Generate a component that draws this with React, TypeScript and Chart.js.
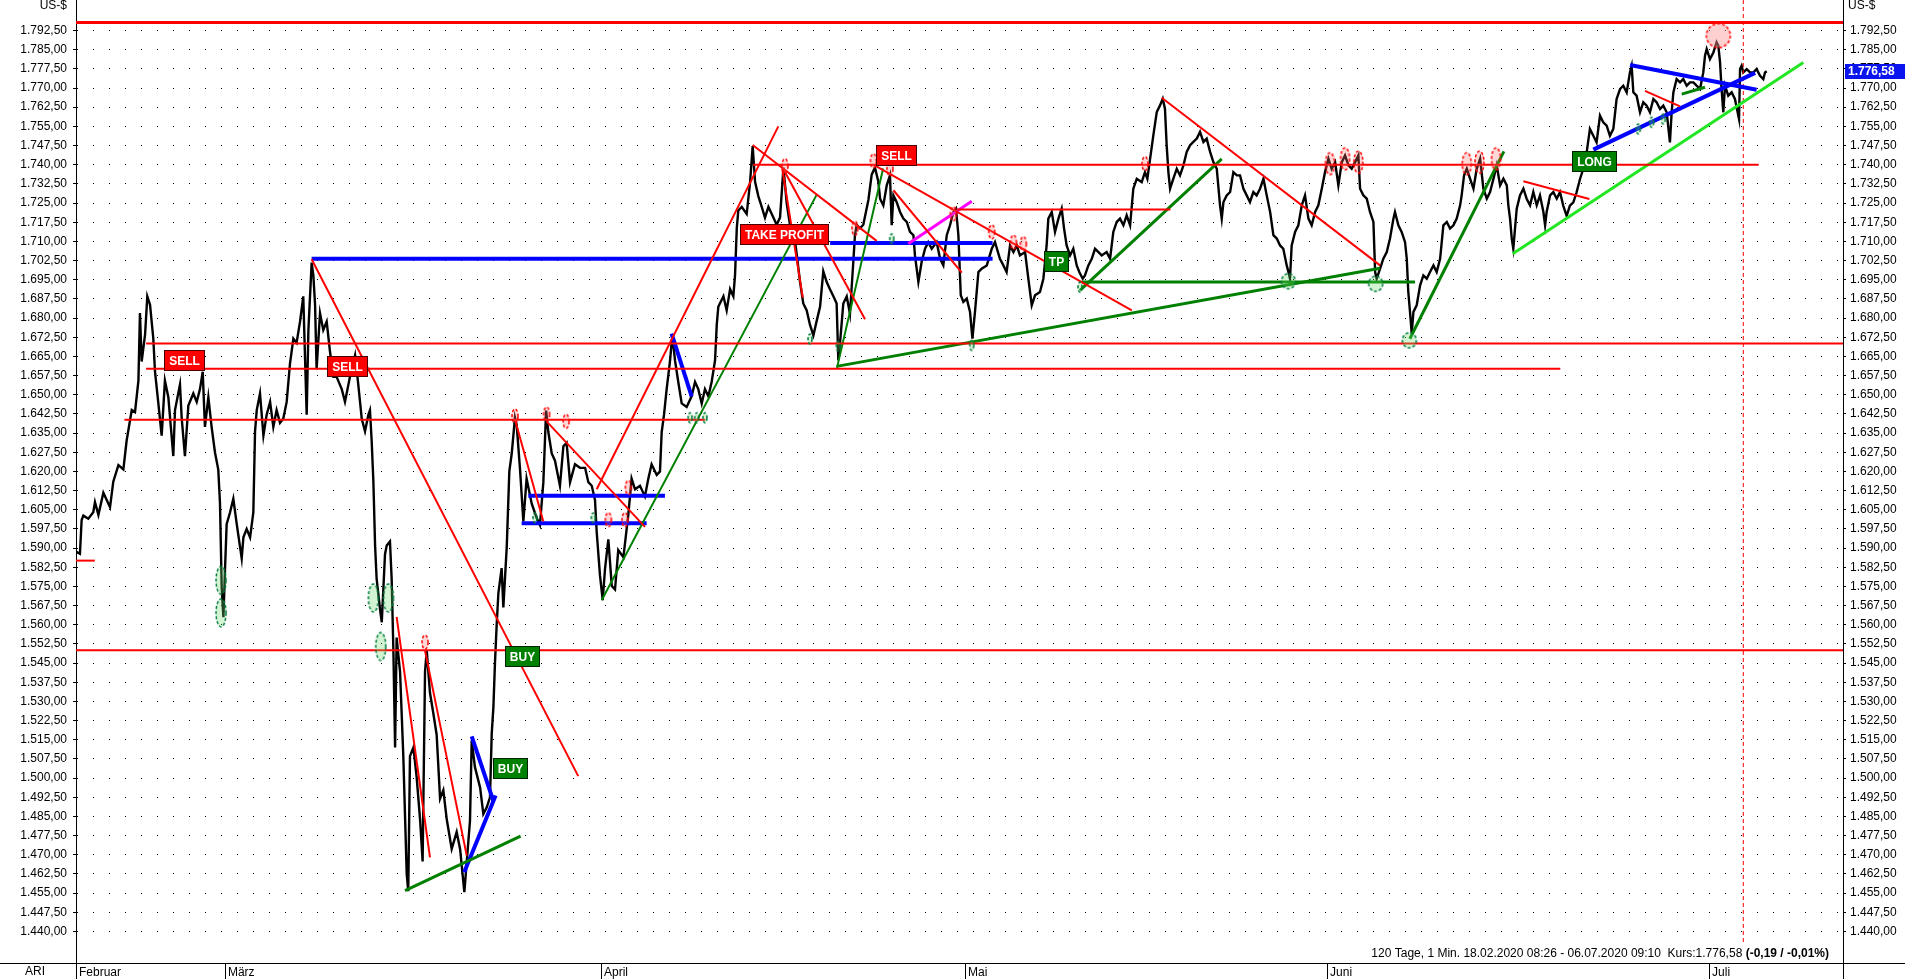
import React, { useEffect, useRef } from "react";
import { Chart, registerables } from "chart.js";

Chart.register(...registerables);

const FONT = "'Liberation Sans', Arial, sans-serif";

// ---- axes -------------------------------------------------------------
// x: trading days since 18.02.2020 08:26
const monthLabels = ["Februar", "März", "April", "Mai", "Juni", "Juli"];
const monthStartDays = [0, 8.71, 30.7, 51.99, 73.16, 95.5];
const xMin = 0;
const xMax = 103.33;
const yMin = 1427.68;
const yMax = 1804.43;
const yTickFirst = 1440;
const yTickLast = 1792.5;
const yTickStep = 7.5;
const lastPrice = 1776.58;
const unitLabel = "US-$";
const symbolLabel = "ARI";
const infoText = "120 Tage, 1 Min. 18.02.2020 08:26 - 06.07.2020 09:10  Kurs:1.776,58 ";
const infoChange = "(-0,19 / -0,01%)";

// ---- price [day, US-$] ---------------------------------------------------
const priceFebMar: [number, number][] = [
  [0, 1588.6], [0.23, 1587.8], [0.33, 1601], [0.43, 1602.7], [0.72, 1601.5], [1.01, 1604], [1.11, 1608], [1.31, 1603],
  [1.6, 1611.7], [1.99, 1606], [2.18, 1616], [2.48, 1622.5], [2.77, 1620.8], [2.96, 1632], [3.26, 1644], [3.45, 1643.2],
  [3.65, 1655.5], [3.74, 1682], [3.84, 1663], [4.04, 1673.6], [4.17, 1688.5], [4.33, 1685.2], [4.52, 1672], [4.62, 1659],
  [4.81, 1647], [5.01, 1634], [5.2, 1655.5], [5.4, 1649], [5.69, 1626], [5.79, 1644], [6.08, 1654], [6.18, 1641],
  [6.37, 1626], [6.57, 1645.8], [6.86, 1650.5], [7.06, 1647.2], [7.25, 1652.2], [7.41, 1659], [7.54, 1637.4], [7.74, 1649],
  [7.93, 1637.4], [8.13, 1627.3], [8.32, 1620.7], [8.42, 1607.6], [8.52, 1574.6], [8.62, 1563], [8.71, 1581], [8.81, 1599.4],
  [9.01, 1604], [9.2, 1609.3], [9.4, 1599.4], [9.69, 1586], [9.79, 1594.2], [9.98, 1597.5], [10.18, 1594.2], [10.37, 1604],
  [10.47, 1635.7], [10.57, 1644], [10.76, 1650.5], [10.96, 1634], [11.15, 1642.2], [11.35, 1647.2], [11.54, 1637.4], [11.73, 1644],
  [11.93, 1639], [12.12, 1640.6], [12.32, 1647.2], [12.51, 1662], [12.71, 1672], [12.9, 1670.3], [13.1, 1678.6], [13.29, 1688.5],
  [13.49, 1642.2], [13.59, 1675.3], [13.78, 1701.7], [13.88, 1696.7], [13.98, 1685.2], [14.07, 1660], [14.27, 1681.9], [14.46, 1675.3],
  [14.66, 1678.6], [14.85, 1667], [15.05, 1657], [15.24, 1657], [15.54, 1652.2], [15.73, 1647.2], [16.02, 1657], [16.32, 1665.4],
  [16.51, 1653.8], [16.71, 1640.6], [16.9, 1635.7], [17.1, 1642.2], [17.19, 1643.9], [17.29, 1632], [17.39, 1616], [17.49, 1591],
  [17.58, 1578], [17.78, 1566], [17.88, 1561], [18.07, 1587.6], [18.17, 1591], [18.36, 1592.6], [18.46, 1577.8], [18.56, 1550],
  [18.66, 1512], [18.75, 1555], [18.95, 1541.6], [19.14, 1508.6], [19.34, 1462.4], [19.43, 1455.8], [19.53, 1508.6], [19.73, 1512],
  [19.92, 1500.4], [20.12, 1483.9], [20.27, 1467.4], [20.41, 1541.6], [20.51, 1550], [20.7, 1533.4], [20.9, 1525.2], [21.09, 1517],
  [21.29, 1492], [21.48, 1495.3], [21.68, 1483.9], [21.97, 1472.3], [22.26, 1478.9], [22.46, 1472.3], [22.71, 1455.4],
  [23.04, 1483.4], [23.14, 1514.7], [23.33, 1504.3], [23.63, 1496.4], [23.82, 1486], [24.02, 1488.6], [24.21, 1492.5], [24.31, 1517.3],
  [24.41, 1528], [24.5, 1545], [24.6, 1560],
];
const priceApr: [number, number][] = [
  [24.7, 1572.4], [24.89, 1582.2], [24.99, 1566.8], [25.19, 1590.6], [25.34, 1620], [25.48, 1627], [25.67, 1641], [25.77, 1638.2],
  [25.96, 1621.4], [26.16, 1600.4], [26.35, 1617.2], [26.65, 1607.4], [26.94, 1601.8], [27.13, 1599], [27.33, 1615.8], [27.49, 1643.8],
  [27.62, 1635.4], [27.82, 1627], [28.01, 1624.2], [28.3, 1614.4], [28.5, 1629.8], [28.69, 1631.2], [28.89, 1615.8], [29.18, 1622.8],
  [29.47, 1621.4], [29.77, 1621.4], [29.96, 1615.8], [30.16, 1614.4], [30.35, 1608.8], [30.45, 1596.2], [30.64, 1579.4], [30.8, 1569.6],
  [30.94, 1582.2], [31.13, 1593.4], [31.33, 1575.2], [31.52, 1573.8], [31.71, 1589.2], [32.01, 1586.4], [32.3, 1603.2], [32.49, 1617.2],
  [32.69, 1613], [32.98, 1614.4], [33.27, 1610.2], [33.47, 1617.2], [33.66, 1622.8], [33.96, 1618.6], [34.15, 1620], [34.25, 1635.4],
  [34.39, 1642.4], [34.54, 1652.2], [34.74, 1663.4], [34.87, 1673.2], [35.03, 1663.4], [35.22, 1655], [35.42, 1646.6], [35.71, 1645.2],
  [36, 1649.4], [36.2, 1655], [36.39, 1652.2], [36.59, 1646.6], [36.78, 1652.2], [36.98, 1649.4], [37.17, 1655], [37.37, 1663.4],
  [37.47, 1677.4], [37.56, 1684.4], [37.86, 1688.5], [38.05, 1683], [38.25, 1691.3], [38.44, 1688.5], [38.54, 1696.9], [38.64, 1715.1],
  [38.73, 1722.1], [38.93, 1723.5], [39.22, 1720.7], [39.42, 1733.3], [39.57, 1747.3], [39.71, 1733.3], [39.9, 1727.7], [40.1, 1723.5],
  [40.29, 1719.3], [40.49, 1723.5], [40.78, 1719.3], [40.97, 1716.5], [41.17, 1719.3], [41.37, 1738.9], [41.56, 1724.9], [41.75, 1716.5],
  [41.95, 1715.1], [42.14, 1705.3], [42.34, 1694.1], [42.53, 1685.7], [42.73, 1683], [42.92, 1677.4], [43.12, 1673.2], [43.31, 1678.8],
  [43.51, 1684.4], [43.7, 1698.3], [43.9, 1694.1], [44.09, 1691.3], [44.29, 1688.5], [44.48, 1685.7], [44.58, 1663.4], [44.68, 1670.4],
  [44.87, 1685.7], [45.07, 1688.5], [45.26, 1681.6], [45.46, 1702.5], [45.55, 1712.3], [45.65, 1716.5], [45.85, 1715.1], [46.04, 1716.5],
  [46.34, 1726.3], [46.53, 1736.1], [46.72, 1738.9], [46.92, 1733.3],
];
const priceMay: [number, number][] = [
  [47.02, 1726.7], [47.21, 1724.1], [47.41, 1731.9], [47.6, 1735.8], [47.7, 1716.3], [47.8, 1728], [47.99, 1725.4], [48.19, 1721.5],
  [48.38, 1718.9], [48.58, 1717.6], [48.77, 1713.7], [48.97, 1712.4], [49.06, 1704.5], [49.26, 1694.1], [49.45, 1701.9], [49.65, 1707.1],
  [49.84, 1709.7], [50.04, 1707.1], [50.33, 1709.7], [50.53, 1703.2], [50.72, 1700.6], [50.92, 1712.4], [51.11, 1716.3], [51.31, 1721.5],
  [51.46, 1722.8], [51.6, 1712.4], [51.74, 1688.9], [51.89, 1686.3], [52.09, 1687.6], [52.28, 1682.4], [52.42, 1671.9], [52.57, 1682.4],
  [52.77, 1698], [52.96, 1699.3], [53.26, 1700.6], [53.55, 1707.1], [53.74, 1709.7], [54.03, 1703.2], [54.23, 1700.6], [54.42, 1698],
  [54.62, 1708.4], [54.82, 1705.8], [55.01, 1708.4], [55.2, 1704.5], [55.5, 1705.8], [55.69, 1695.4], [55.89, 1685], [56.08, 1688.9],
  [56.37, 1690.2], [56.57, 1695.4], [56.76, 1708.4], [56.86, 1718.9], [57.06, 1721.5], [57.25, 1713.7], [57.45, 1718.9], [57.64, 1722.8],
  [57.78, 1715], [57.93, 1708.4], [58.13, 1704.5], [58.32, 1707.1], [58.52, 1700.6], [58.67, 1698], [58.87, 1695.4], [59, 1696.7],
  [59.2, 1700.6], [59.4, 1703.2], [59.59, 1707.1], [59.79, 1705.8], [59.98, 1704.5], [60.27, 1705.8], [60.47, 1703.2], [60.66, 1713.7],
  [60.86, 1717.6], [61.05, 1718.9], [61.25, 1716.3], [61.44, 1720.2], [61.64, 1716.3], [61.83, 1730.6], [62.03, 1734.5], [62.32, 1733.2],
  [62.51, 1737.1], [62.65, 1734.5], [62.81, 1742.3], [63, 1751.5], [63.2, 1760.6], [63.39, 1763.2], [63.55, 1765.8], [63.68, 1761.9],
  [63.78, 1747.6], [63.88, 1737.1], [63.98, 1730.6], [64.17, 1734.5], [64.37, 1738.4], [64.56, 1735.8], [64.76, 1739.7], [64.95, 1745],
  [65.15, 1747.6], [65.34, 1748.9], [65.54, 1750.2], [65.73, 1752.8], [65.93, 1748.9], [66.12, 1750.2], [66.32, 1745], [66.51, 1741],
  [66.71, 1738.4], [66.9, 1724.1], [67, 1718.9], [67.1, 1725.4], [67.29, 1728], [67.49, 1729.3], [67.68, 1737.1], [67.88, 1735.8],
  [68.07, 1735.8], [68.27, 1730.6], [68.46, 1728], [68.65, 1725.4], [68.85, 1729.3], [69.04, 1728], [69.24, 1730.6], [69.44, 1734.5],
  [69.63, 1728], [69.83, 1721.5], [70.02, 1712.4], [70.22, 1711.1], [70.41, 1708.4],
];
const priceJun: [number, number][] = [
  [70.6, 1707.1], [70.8, 1700.6], [70.9, 1698], [70.99, 1695.4], [71.09, 1708.4], [71.29, 1713.7], [71.48, 1716.3], [71.68, 1724.1],
  [71.87, 1728], [72.07, 1718.9], [72.26, 1716.3], [72.46, 1721.5], [72.65, 1724.1], [72.85, 1730.6], [73.04, 1737.1], [73.24, 1742.3],
  [73.43, 1738.4], [73.63, 1741], [73.82, 1731.9], [74.02, 1741], [74.21, 1743.6], [74.41, 1739.7], [74.6, 1738.4], [74.8, 1741],
  [74.99, 1743.6], [75.09, 1730.6], [75.28, 1728], [75.48, 1726.7], [75.67, 1721.5], [75.87, 1717.6], [75.97, 1698], [76.06, 1695.4],
  [76.26, 1699.3], [76.45, 1703.2], [76.65, 1705.8], [76.84, 1711.1], [77.04, 1718.9], [77.13, 1721.5], [77.33, 1716.3], [77.52, 1713.7],
  [77.72, 1709.7], [77.82, 1703.2], [77.91, 1690.2], [78.01, 1682.4], [78.11, 1674], [78.21, 1682.4], [78.4, 1685], [78.6, 1692.8],
  [78.79, 1696.7], [78.99, 1695.4], [79.18, 1698], [79.38, 1700.6], [79.57, 1698], [79.77, 1703.2], [79.96, 1716.3], [80.16, 1717.6],
  [80.35, 1715], [80.55, 1716.3], [80.74, 1718.9], [80.94, 1724.1], [81.03, 1728], [81.17, 1735.8], [81.33, 1738.4], [81.52, 1734.5],
  [81.72, 1730.6], [81.91, 1738.4], [82.11, 1742.3], [82.3, 1730.6], [82.5, 1726.7], [82.69, 1729.3], [82.89, 1734.5], [83.08, 1739.7],
  [83.28, 1731.9], [83.47, 1734.5], [83.67, 1731.9], [83.76, 1724.1], [83.86, 1718.9], [83.96, 1711.1], [84.05, 1707.1], [84.15, 1715],
  [84.25, 1722.8], [84.44, 1728], [84.64, 1730.6], [84.83, 1726.7], [85.03, 1724.1], [85.22, 1729.3], [85.42, 1724.1], [85.61, 1728],
  [85.81, 1721.5], [85.91, 1716.3], [86, 1721.5], [86.2, 1728], [86.39, 1729.3], [86.59, 1726.7], [86.78, 1729.3],
];
const priceJul: [number, number][] = [
  [86.97, 1724], [87.17, 1720], [87.36, 1724], [87.56, 1725.3], [87.75, 1729.2], [87.95, 1734.4], [88.14, 1738.3], [88.34, 1744.8],
  [88.53, 1754], [88.73, 1751.3], [88.92, 1748.7], [89.12, 1759.2], [89.31, 1756.6], [89.51, 1755.3], [89.7, 1751.3], [89.9, 1754],
  [90.09, 1765.7], [90.29, 1769.6], [90.48, 1770.9], [90.68, 1768.3], [90.87, 1776.1], [90.97, 1778.7], [91.07, 1768.3], [91.26, 1767],
  [91.46, 1760.5], [91.65, 1764.4], [91.85, 1763.1], [92.04, 1760.5], [92.24, 1765.7], [92.43, 1764.4], [92.63, 1761.8], [92.82, 1763.1],
  [93.02, 1760.5], [93.21, 1748.7], [93.31, 1760.5], [93.41, 1768.3], [93.6, 1773.5], [93.8, 1772.2], [93.99, 1773.5], [94.19, 1770.9],
  [94.38, 1772.2], [94.58, 1772.2], [94.77, 1770.9], [94.97, 1769.6], [95.16, 1776.1], [95.26, 1782.6], [95.36, 1785.2], [95.55, 1781.3],
  [95.75, 1783.9], [95.94, 1787.9], [96.04, 1786.6], [96.14, 1780], [96.23, 1769.6], [96.33, 1760.5], [96.43, 1770.9], [96.62, 1767],
  [96.82, 1768.3], [97.01, 1765.7], [97.25, 1757.9], [97.31, 1777.4], [97.4, 1778.7], [97.5, 1776.1], [97.7, 1777.4], [97.89, 1776.1],
  [98.09, 1776.1], [98.28, 1777.4], [98.48, 1774.8], [98.67, 1773.5], [98.77, 1776.1], [98.87, 1776.58],
];

// ---- drawing tools ---------------------------------------------------------
// horizontal levels: [fromDay, toDay, value]
const redTopLevel: [number, number, number][] = [[0, 103.33, 1795.6]];
const redLevels: [number, number, number][] = [
  [0, 1.1, 1585.1], [2.83, 36.8, 1640.2], [4.1, 86.8, 1660.2], [4.1, 103.33, 1670],
  [0, 103.33, 1550], [39.6, 98.4, 1740], [51.5, 64.0, 1722.5],
];
const blueLevels: [number, number, number][] = [
  [13.78, 53.6, 1703.2], [44.1, 53.6, 1709.4], [26.45, 34.44, 1610.5], [26.06, 33.37, 1599.7],
];
const greenLevels: [number, number, number][] = [[58.81, 78.3, 1694.1]];
// trend lines: [day1, value1, day2, value2]
const redTrends: [number, number, number, number][] = [
  [13.78, 1703, 29.37, 1500.8], [30.45, 1613, 41.07, 1755], [27.52, 1639.6, 33.27, 1598.3],
  [25.67, 1640.3, 27.33, 1600.4], [39.57, 1747.7, 46.82, 1710.2], [41.3, 1738.5, 42.5, 1688],
  [41.4, 1737.8, 46.14, 1679.5], [46.63, 1740, 61.74, 1683], [47.8, 1730, 51.8, 1697.8],
  [63.49, 1766.2, 76.26, 1700.6], [84.64, 1733.5, 88.5, 1726.6], [91.75, 1768.9, 93.8, 1762.8],
  [18.75, 1563.1, 20.7, 1469], [20.41, 1549.9, 22.85, 1469.7],
];
const blueTrends: [number, number, number, number][] = [
  [34.83, 1673.9, 36.0, 1649.4], [23.14, 1516.3, 24.4, 1491.2], [22.7, 1463.2, 24.54, 1493.2],
  [90.88, 1779, 98.28, 1769.3], [88.73, 1745.9, 98.19, 1775.9],
];
const greenTrendsThick: [number, number, number, number][] = [
  [19.24, 1456, 26.0, 1477.3], [44.48, 1661.1, 76.26, 1699.5], [58.71, 1690.8, 67.0, 1742.3],
  [78.0, 1671.9, 83.5, 1745.2], [93.9, 1767.6, 95.26, 1770.3],
];
const greenTrendsThin: [number, number, number, number][] = [
  [30.74, 1569.6, 43.3, 1728.1], [44.5, 1660.5, 47.2, 1738.5],
];
const limeTrends: [number, number, number, number][] = [[84.02, 1705.2, 101.01, 1780]];
const magentaTrends: [number, number, number, number][] = [[48.67, 1709.1, 52.38, 1725.7]];
const todayMarkerDay = 97.5;
const todayMarkerRange: [number, number] = [1435.9, 1804.43];

// markers (swing highs / lows): [day, value]
const redMarksSmall: [number, number][] = [
  [20.41, 1553.2], [25.67, 1641.7], [27.52, 1642.4], [28.66, 1639.6], [31.13, 1601.1], [32.1, 1601.1],
  [32.3, 1613.7], [41.46, 1739.6], [45.55, 1715.1], [46.63, 1741.5], [47.6, 1738.4], [51.31, 1720.8],
  [53.55, 1713.7], [54.82, 1709.7], [55.4, 1709.1], [62.51, 1740.4],
];
const redMarksLarge: [number, number][] = [
  [73.33, 1740.4], [74.21, 1742.3], [74.99, 1741], [81.33, 1740.4], [82.07, 1741], [83.04, 1742.3],
];
const redMarksRound: [number, number][] = [[96.04, 1790.5]];
const greenMarksTall: [number, number][] = [
  [8.48, 1577.4], [8.48, 1564.7], [17.39, 1570.5], [18.27, 1570.5], [17.82, 1551.5],
];
const greenMarksRound: [number, number][] = [[70.9, 1694.4], [76.0, 1693.4], [77.97, 1671.3]];
const greenMarksSmall: [number, number][] = [
  [26.84, 1601.8], [30.25, 1601.8], [35.91, 1641], [36.3, 1641], [36.78, 1641], [42.92, 1671.8],
  [44.58, 1669], [47.7, 1711], [52.38, 1669.3], [58.71, 1692.1], [91.36, 1754], [92.14, 1756.6], [92.82, 1757.9],
];

// signal labels: [day, value, text]
const sellSignals: [number, number, string][] = [
  [6.37, 1663.3, "SELL"], [15.9, 1661.2, "SELL"], [48.0, 1743.4, "SELL"], [41.42, 1712.6, "TAKE PROFIT"],
];
const buySignals: [number, number, string][] = [
  [26.13, 1547.4, "BUY"], [25.38, 1503.9, "BUY"], [57.33, 1702, "TP"], [88.8, 1741.2, "LONG"],
];

// ---- helpers -----------------------------------------------------------------
const fmtDE = (v: number) => {
  const [i, d] = v.toFixed(2).split(".");
  return i.replace(/\B(?=(\d{3})+(?!\d))/g, ".") + "," + d;
};

const yTicks: number[] = [];
for (let v = yTickFirst; v <= yTickLast + 1e-6; v += yTickStep) yTicks.push(Math.round(v * 100) / 100);

function ellipseCanvas(rx: number, ry: number, stroke: string, fill: string) {
  const c = document.createElement("canvas");
  c.width = Math.ceil(rx * 2 + 4);
  c.height = Math.ceil(ry * 2 + 4);
  const g = c.getContext("2d")!;
  g.beginPath();
  g.ellipse(c.width / 2, c.height / 2, rx, ry, 0, 0, Math.PI * 2);
  g.fillStyle = fill;
  g.fill();
  g.setLineDash([3, 2]);
  g.lineWidth = 1.5;
  g.strokeStyle = stroke;
  g.stroke();
  return c;
}

const lineDs = (pts: [number, number][], color: string, width: number, order: number, dash: number[] = []) => ({
  type: "line" as const,
  data: pts.map(([x, y]) => ({ x, y })),
  borderColor: color,
  borderWidth: width,
  borderDash: dash,
  pointRadius: 0,
  pointHoverRadius: 0,
  fill: false,
  tension: 0,
  order,
});

const noPadV = (s: any, w: number) => {
  s.width = w;
  s.paddingTop = 0;
  s.paddingBottom = 0;
};

export default function App() {
  const ref = useRef<HTMLCanvasElement>(null);

  useEffect(() => {
    const canvas = ref.current;
    if (!canvas) return;

    const datasets: any[] = [];
    const price = [...priceFebMar, ...priceApr, ...priceMay, ...priceJun, ...priceJul];
    datasets.push(lineDs(price, "#000000", 2.4, 10));

    const addLevels = (arr: [number, number, number][], color: string, w: number) =>
      arr.forEach(([a, b, v]) => datasets.push(lineDs([[a, v], [b, v]], color, w, 2)));
    const addTrends = (arr: [number, number, number, number][], color: string, w: number) =>
      arr.forEach(([a, v1, b, v2]) => datasets.push(lineDs([[a, v1], [b, v2]], color, w, 2)));

    addLevels(redTopLevel, "#ff0000", 3);
    addLevels(redLevels, "#ff0000", 2);
    addTrends(redTrends, "#ff0000", 2);
    addLevels(greenLevels, "#008000", 3);
    addTrends(greenTrendsThick, "#008000", 3);
    addTrends(greenTrendsThin, "#008000", 2);
    addTrends(limeTrends, "#22e622", 3);
    addTrends(magentaTrends, "#ff00ff", 3);
    addLevels(blueLevels, "#0000ff", 4);
    addTrends(blueTrends, "#0000ff", 4);
    datasets.push(
      lineDs([[todayMarkerDay, todayMarkerRange[0]], [todayMarkerDay, todayMarkerRange[1]]], "#ff0000", 1, 2, [4, 3])
    );

    const markerDs = (pts: [number, number][], img: HTMLCanvasElement) => ({
      type: "scatter" as const,
      data: pts.map(([x, y]) => ({ x, y })),
      pointStyle: img,
      pointRadius: 5,
      pointHoverRadius: 5,
      showLine: false,
      order: 1,
    });
    const redStroke = "#ff0000";
    const redFill = "rgba(255,110,110,0.28)";
    const greenStroke = "#007a3d";
    const greenFill = "rgba(110,220,110,0.3)";
    datasets.push(markerDs(redMarksSmall, ellipseCanvas(3, 7, redStroke, redFill)));
    datasets.push(markerDs(redMarksLarge, ellipseCanvas(4.5, 11, redStroke, redFill)));
    datasets.push(markerDs(redMarksRound, ellipseCanvas(12, 12, redStroke, "rgba(255,150,150,0.45)")));
    datasets.push(markerDs(greenMarksTall, ellipseCanvas(5, 14, greenStroke, greenFill)));
    datasets.push(markerDs(greenMarksRound, ellipseCanvas(7, 7.5, greenStroke, greenFill)));
    datasets.push(markerDs(greenMarksSmall, ellipseCanvas(2, 5, greenStroke, greenFill)));

    const signalPlugin = {
      id: "signals",
      afterDatasetsDraw(chart: any) {
        const { ctx, scales } = chart;
        const draw = (list: [number, number, string][], fill: string, stroke: string) => {
          list.forEach(([d, v, text]) => {
            const cx = scales.x.getPixelForValue(d);
            const cy = scales.y.getPixelForValue(v);
            ctx.save();
            ctx.font = `bold 12px ${FONT}`;
            const w = Math.round(ctx.measureText(text).width) + 10;
            const h = 21;
            const left = Math.round(cx - w / 2);
            const top = Math.round(cy - h / 2);
            ctx.fillStyle = fill;
            ctx.fillRect(left, top, w, h);
            ctx.strokeStyle = stroke;
            ctx.lineWidth = 1;
            ctx.strokeRect(left + 0.5, top + 0.5, w - 1, h - 1);
            ctx.fillStyle = "#ffffff";
            ctx.textAlign = "center";
            ctx.textBaseline = "middle";
            ctx.fillText(text, left + w / 2, top + h / 2 + 1);
            ctx.restore();
          });
        };
        draw(sellSignals, "#ff0000", "#4a0000");
        draw(buySignals, "#008000", "#002200");
      },
    };

    const framePlugin = {
      id: "frame",
      afterDraw(chart: any) {
        const { ctx, chartArea, scales, width, height } = chart;
        ctx.save();
        ctx.strokeStyle = "#000";
        ctx.lineWidth = 1;
        const by = Math.round(chartArea.bottom) + 0.5;
        const lx = Math.round(chartArea.left) + 0.5;
        const rx = Math.round(chartArea.right) + 0.5;
        ctx.beginPath();
        ctx.moveTo(0, by);
        ctx.lineTo(width, by);
        ctx.moveTo(lx, by);
        ctx.lineTo(lx, height);
        ctx.moveTo(rx, by);
        ctx.lineTo(rx, height);
        monthStartDays.forEach((d) => {
          const px = Math.round(scales.x.getPixelForValue(d)) + 0.5;
          ctx.moveTo(px, by);
          ctx.lineTo(px, height);
        });
        ctx.stroke();

        ctx.fillStyle = "#000";
        ctx.font = `12px ${FONT}`;
        ctx.textBaseline = "middle";
        ctx.textAlign = "right";
        ctx.fillText(unitLabel, 67, 6);
        ctx.textAlign = "left";
        ctx.fillText(unitLabel, 1848, 6);
        ctx.fillText(symbolLabel, 25, 972);

        // info line
        ctx.font = `bold 12px ${FONT}`;
        const bw = ctx.measureText(infoChange).width;
        ctx.textAlign = "right";
        ctx.fillText(infoChange, 1829, 954);
        ctx.font = `12px ${FONT}`;
        ctx.fillText(infoText, 1829 - bw, 954);

        // last price box
        const py = Math.round(scales.y.getPixelForValue(lastPrice));
        ctx.fillStyle = "#0a14ee";
        ctx.fillRect(Math.round(chartArea.right) + 2, py - 7, 70, 15);
        ctx.fillStyle = "#fff";
        ctx.font = `bold 12px ${FONT}`;
        ctx.textAlign = "left";
        ctx.fillText(fmtDE(lastPrice), 1848, py + 1);
        ctx.restore();
      },
    };

    const yTickCfg = {
      autoSkip: false,
      color: "#000",
      font: { family: FONT, size: 12 },
      callback: (v: any) => fmtDE(Number(v)),
    };

    const chart = new Chart(canvas, {
      type: "line",
      data: { datasets },
      plugins: [signalPlugin, framePlugin],
      options: {
        animation: false,
        responsive: false,
        devicePixelRatio: 1,
        layout: { padding: 0, autoPadding: false },
        plugins: { legend: { display: false }, tooltip: { enabled: false } },
        events: [],
        scales: {
          x: {
            type: "linear",
            min: xMin,
            max: xMax,
            position: "bottom",
            afterBuildTicks: (s: any) => {
              s.ticks = monthStartDays.map((v) => ({ value: v }));
            },
            afterFit: (s: any) => {
              s.height = 16;
              s.paddingLeft = 0;
              s.paddingRight = 0;
            },
            ticks: {
              autoSkip: false,
              maxRotation: 0,
              minRotation: 0,
              align: "start",
              labelOffset: 3,
              padding: 2,
              color: "#000",
              font: { family: FONT, size: 12 },
              callback: (_v: any, i: number) => monthLabels[i],
            },
            grid: { drawOnChartArea: false, drawTicks: false },
            border: { display: true, color: "#000", width: 1 },
          },
          y: {
            type: "linear",
            position: "left",
            min: yMin,
            max: yMax,
            afterBuildTicks: (s: any) => {
              s.ticks = yTicks.map((v) => ({ value: v }));
            },
            afterFit: (s: any) => noPadV(s, 76),
            ticks: { ...yTickCfg, padding: 6 },
            grid: {
              color: "#000",
              lineWidth: 1,
              drawTicks: true,
              tickLength: 3,
              tickColor: "#000",
              tickBorderDash: [],
            },
            border: { display: true, color: "#000", width: 1, dash: [1, 15] },
          },
          y2: {
            type: "linear",
            position: "right",
            min: yMin,
            max: yMax,
            afterBuildTicks: (s: any) => {
              s.ticks = yTicks.map((v) => ({ value: v }));
            },
            afterFit: (s: any) => noPadV(s, 62),
            ticks: { ...yTickCfg, padding: 4 },
            grid: { drawOnChartArea: false, drawTicks: true, tickLength: 3, tickColor: "#000" },
            border: { display: true, color: "#000", width: 1 },
          },
        },
      } as any,
    });

    return () => chart.destroy();
  }, []);

  return (
    <div style={{ position: "fixed", left: 0, top: 0, width: 1905, height: 979, background: "#fff" }}>
      <canvas ref={ref} width={1905} height={979} style={{ display: "block", width: 1905, height: 979 }} />
    </div>
  );
}
